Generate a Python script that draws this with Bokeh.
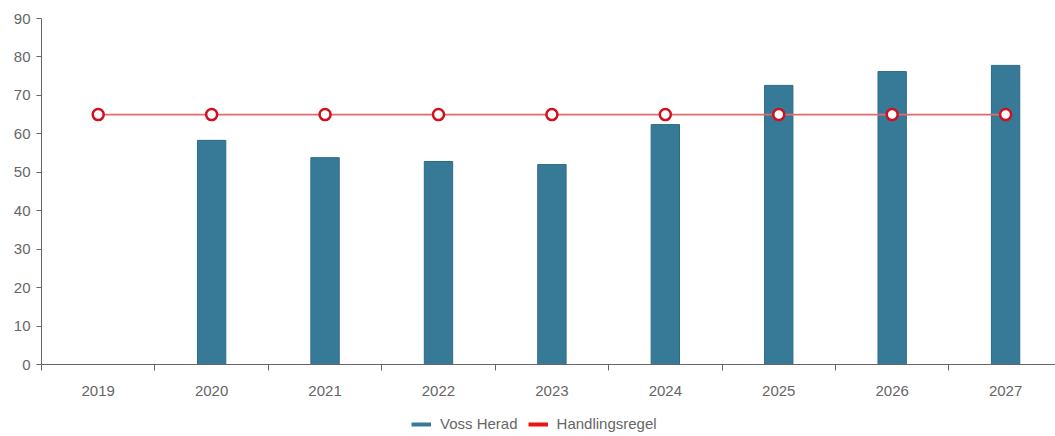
from bokeh.plotting import figure
from bokeh.layouts import column
from bokeh.models import Range1d, FixedTicker, Legend, LegendItem, ColumnDataSource
from bokeh.embed import file_html
from bokeh.resources import INLINE

years = ["2019", "2020", "2021", "2022", "2023", "2024", "2025", "2026", "2027"]
voss_herad = [None, 58.3, 53.8, 52.8, 52.0, 62.4, 72.6, 76.2, 77.8]
handlingsregel = [65, 65, 65, 65, 65, 65, 65, 65, 65]
y_ticks = [0, 10, 20, 30, 40, 50, 60, 70, 80, 90]

FONT = "Liberation Sans"
FS = "15px"
GREY = "#666666"
TEAL = "#367a98"
RED_LINE = "#e26a6a"
RED_MARK = "#d0101e"

xs = list(range(len(years)))
bx = [x for x, v in zip(xs, voss_herad) if v is not None]
bv = [v for v in voss_herad if v is not None]

main = figure(width=1055, height=404, output_backend="svg", toolbar_location=None,
              x_range=Range1d(-0.5, 8.44), y_range=Range1d(0, 90),
              min_border_left=41, min_border_right=0, min_border_top=18, min_border_bottom=40)
main.outline_line_color = None
main.grid.visible = False

main.vbar(x=bx, top=bv, width=0.25, bottom=0, fill_color=TEAL,
          line_color="#2e6a85", line_width=1)
main.line(xs, handlingsregel, line_color=RED_LINE, line_width=1.8)
main.scatter(xs, handlingsregel, size=11, fill_color="white",
             line_color=RED_MARK, line_width=2.5)

main.xaxis.ticker = FixedTicker(ticks=xs, minor_ticks=[i - 0.5 for i in xs])
main.xaxis.major_label_overrides = {i: y for i, y in enumerate(years)}
main.xaxis.major_tick_out = 0
main.xaxis.major_tick_in = 0
main.xaxis.minor_tick_out = 6
main.xaxis.minor_tick_in = 0
main.xaxis.minor_tick_line_color = GREY
main.xaxis.axis_line_color = GREY
main.xaxis.major_label_standoff = 15
main.xaxis.major_label_text_font = FONT
main.xaxis.major_label_text_font_size = FS
main.xaxis.major_label_text_color = GREY

main.yaxis.ticker = FixedTicker(ticks=y_ticks)
main.yaxis.minor_tick_line_color = None
main.yaxis.major_tick_out = 5
main.yaxis.major_tick_in = 0
main.yaxis.major_tick_line_color = GREY
main.yaxis.axis_line_color = GREY
main.yaxis.major_label_standoff = 6
main.yaxis.major_label_text_font = FONT
main.yaxis.major_label_text_font_size = FS
main.yaxis.major_label_text_color = GREY

# legend strip below the chart
leg = figure(width=1055, height=32, output_backend="svg", toolbar_location=None,
             x_range=Range1d(0, 1), y_range=Range1d(0, 1),
             min_border_left=0, min_border_right=0, min_border_top=0, min_border_bottom=0)
leg.axis.visible = False
leg.grid.visible = False
leg.outline_line_color = None
proxy = ColumnDataSource(data=dict(x=[-10, -9], y=[-10, -10]))
leg_teal = leg.line(x="x", y="y", source=proxy, line_color=TEAL, line_width=4)
leg_red = leg.line(x="x", y="y", source=proxy, line_color="#ee1111", line_width=4)
legend = Legend(items=[LegendItem(label="Voss Herad", renderers=[leg_teal]),
                       LegendItem(label="Handlingsregel", renderers=[leg_red])],
                orientation="horizontal", location=(370, 4),
                label_text_font=FONT, label_text_font_size=FS,
                label_text_color=GREY, glyph_width=20, glyph_height=14,
                spacing=10, label_standoff=9, border_line_color=None,
                background_fill_alpha=0, margin=0, padding=4)
leg.add_layout(legend, "center")

p = column(main, leg, spacing=0)

open("out.html", "w").write(file_html(p, INLINE))
